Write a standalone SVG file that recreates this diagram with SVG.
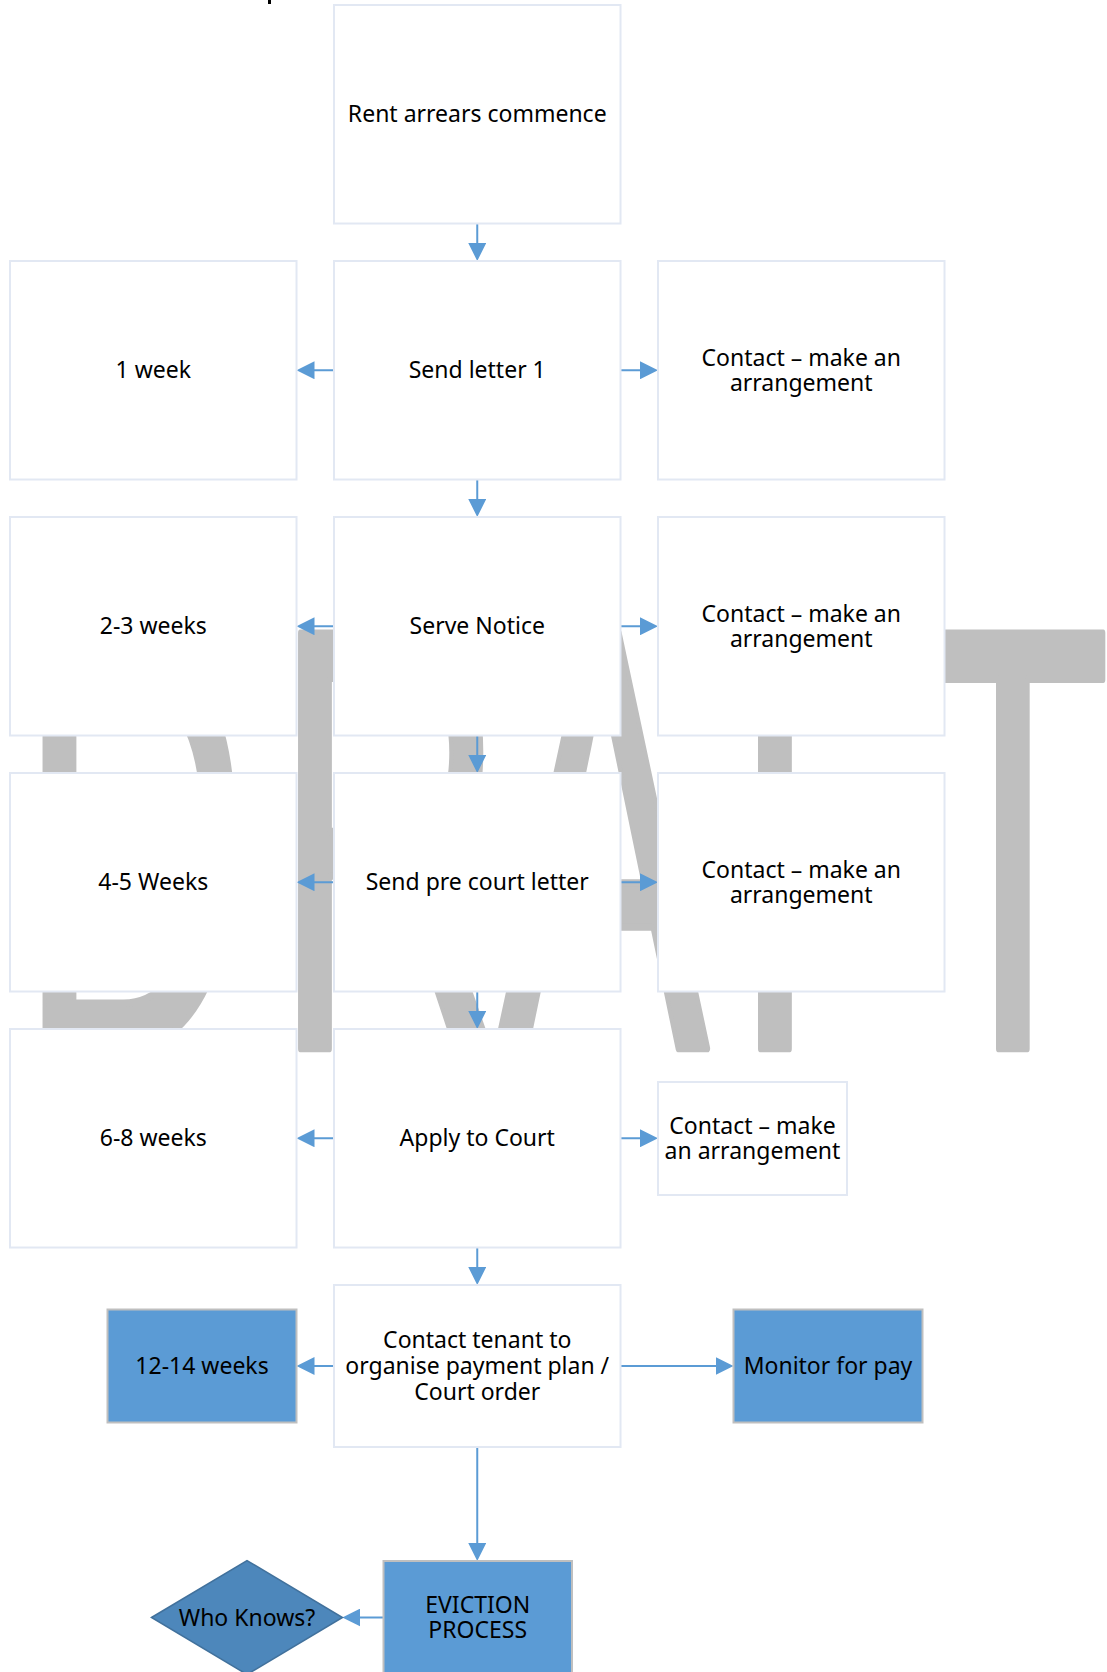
<svg xmlns="http://www.w3.org/2000/svg" width="1107" height="1672" viewBox="0 0 1107 1672">
<style>
.box{fill:#ffffff;stroke:#E2E8F3;stroke-width:2}
.bluebox{fill:#5B9BD5;stroke:#BFBFBF;stroke-width:2}
.diamond{fill:#4D87BB;stroke:#41719C;stroke-width:1.5}
.lbl{font-family:"Noto Sans","DejaVu Sans",sans-serif;font-size:23px;fill:#000000;text-anchor:middle}
.conn{stroke:#5B9BD5;stroke-width:2;fill:none;marker-end:url(#ah)}
.wm{font-family:"Liberation Sans",Arial,sans-serif;font-size:320px;fill:#BFBFBF;stroke:#BFBFBF;stroke-width:4;stroke-linejoin:round}
</style>
<defs>
<marker id="ah" markerUnits="userSpaceOnUse" markerWidth="18" markerHeight="18" refX="2" refY="9" orient="auto">
<path d="M0,0 L18,9 L0,18 Z" fill="#5B9BD5"/>
</marker>
</defs>
<rect width="1107" height="1672" fill="#ffffff"/>
<rect x="268" y="0" width="3" height="4" fill="#000000"/>
<g id="watermark">
<text class="wm" x="18.3 273.8 495.3 733.75 915.2" y="0" transform="translate(0,1048.4) scale(1,1.886)">DRAFT</text>
</g>
<g id="connectors">
<line class="conn" x1="477.25" y1="224" x2="477.25" y2="245"/>
<line class="conn" x1="477.25" y1="479.5" x2="477.25" y2="501"/>
<line class="conn" x1="477.25" y1="735.5" x2="477.25" y2="757"/>
<line class="conn" x1="477.25" y1="991.5" x2="477.25" y2="1013"/>
<line class="conn" x1="477.25" y1="1247.5" x2="477.25" y2="1269"/>
<line class="conn" x1="477.25" y1="1447" x2="477.25" y2="1545"/>
<line class="conn" x1="334" y1="370.25" x2="312.5" y2="370.25"/>
<line class="conn" x1="620.5" y1="370.25" x2="642" y2="370.25"/>
<line class="conn" x1="334" y1="626.25" x2="312.5" y2="626.25"/>
<line class="conn" x1="620.5" y1="626.25" x2="642" y2="626.25"/>
<line class="conn" x1="334" y1="882.25" x2="312.5" y2="882.25"/>
<line class="conn" x1="620.5" y1="882.25" x2="642" y2="882.25"/>
<line class="conn" x1="334" y1="1138.25" x2="312.5" y2="1138.25"/>
<line class="conn" x1="620.5" y1="1138.25" x2="642" y2="1138.25"/>
<line class="conn" x1="334" y1="1366" x2="312.5" y2="1366"/>
<line class="conn" x1="620.5" y1="1366" x2="717.5" y2="1366"/>
<line class="conn" x1="383.5" y1="1617.5" x2="358.3" y2="1617.5"/>
</g>
<g id="n-rent"><rect class="box" x="334" y="5" width="286.5" height="218.5"/><text class="lbl" x="477.25" y="122.3">Rent arrears commence</text></g>
<g id="n-week1"><rect class="box" x="10" y="261" width="286.5" height="218.5"/><text class="lbl" x="153.25" y="378.3">1 week</text></g>
<g id="n-letter1"><rect class="box" x="334" y="261" width="286.5" height="218.5"/><text class="lbl" x="477.25" y="378.3">Send letter 1</text></g>
<g id="n-contact1"><rect class="box" x="658" y="261" width="286.5" height="218.5"/><text class="lbl" x="801.25" y="365.5">Contact – make an</text><text class="lbl" x="801.25" y="391.1">arrangement</text></g>
<g id="n-week23"><rect class="box" x="10" y="517" width="286.5" height="218.5"/><text class="lbl" x="153.25" y="634.3">2-3 weeks</text></g>
<g id="n-notice"><rect class="box" x="334" y="517" width="286.5" height="218.5"/><text class="lbl" x="477.25" y="634.3">Serve Notice</text></g>
<g id="n-contact2"><rect class="box" x="658" y="517" width="286.5" height="218.5"/><text class="lbl" x="801.25" y="621.5">Contact – make an</text><text class="lbl" x="801.25" y="647.1">arrangement</text></g>
<g id="n-week45"><rect class="box" x="10" y="773" width="286.5" height="218.5"/><text class="lbl" x="153.25" y="890.3">4-5 Weeks</text></g>
<g id="n-precourt"><rect class="box" x="334" y="773" width="286.5" height="218.5"/><text class="lbl" x="477.25" y="890.3">Send pre court letter</text></g>
<g id="n-contact3"><rect class="box" x="658" y="773" width="286.5" height="218.5"/><text class="lbl" x="801.25" y="877.5">Contact – make an</text><text class="lbl" x="801.25" y="903.1">arrangement</text></g>
<g id="n-week68"><rect class="box" x="10" y="1029" width="286.5" height="218.5"/><text class="lbl" x="153.25" y="1146.3">6-8 weeks</text></g>
<g id="n-court"><rect class="box" x="334" y="1029" width="286.5" height="218.5"/><text class="lbl" x="477.25" y="1146.3">Apply to Court</text></g>
<g id="n-contact4"><rect class="box" x="658" y="1082" width="189" height="113"/><text class="lbl" x="752.5" y="1133.5">Contact – make</text><text class="lbl" x="752.5" y="1159.1">an arrangement</text></g>
<g id="n-tenant"><rect class="box" x="334" y="1285" width="286.5" height="162"/><text class="lbl" x="477.25" y="1348.4">Contact tenant to</text><text class="lbl" x="477.25" y="1374">organise payment plan /</text><text class="lbl" x="477.25" y="1399.6">Court order</text></g>
<g id="n-week1214"><rect class="bluebox" x="107.5" y="1309.5" width="189" height="113"/><text class="lbl" x="202" y="1374">12-14 weeks</text></g>
<g id="n-monitor"><rect class="bluebox" x="733.5" y="1309.5" width="189" height="113"/><text class="lbl" x="828" y="1374">Monitor for pay</text></g>
<g id="n-eviction"><rect class="bluebox" x="383.5" y="1561" width="188.5" height="113"/><text class="lbl" x="477.75" y="1612.5">EVICTION</text><text class="lbl" x="477.75" y="1638.1">PROCESS</text></g>
<g id="n-whoknows"><polygon class="diamond" points="151.5,1617.5 247,1560.5 342.5,1617.5 247,1674.5"/><text class="lbl" x="247" y="1625.5">Who Knows?</text></g>
</svg>
